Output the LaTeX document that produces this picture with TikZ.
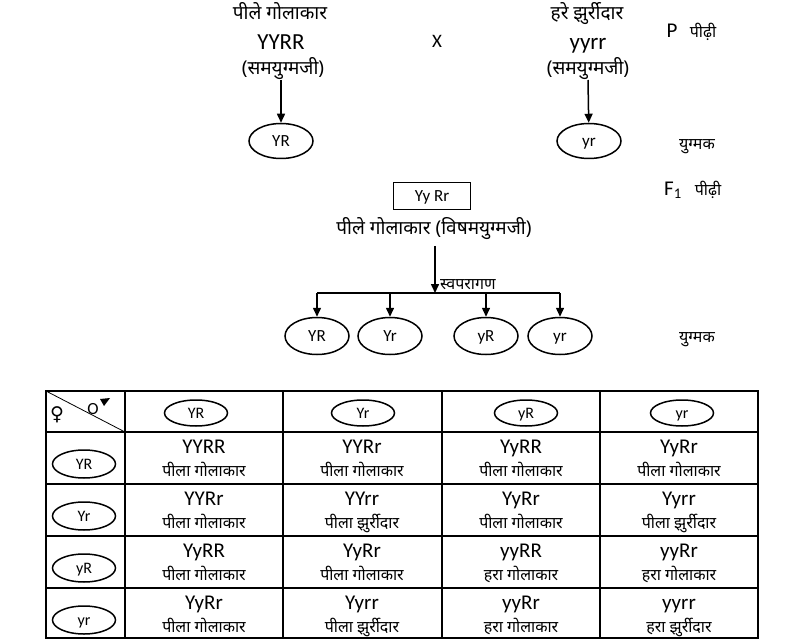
\documentclass[tikz,border=0pt]{standalone}
\usepackage{fontspec}
\setmainfont{Carlito}
\newfontfamily\dev[Script=Devanagari]{Noto Sans}
\newfontfamily\sym{DejaVu Sans}
\usetikzlibrary{shapes.geometric,arrows.meta}
\begin{document}
\begin{tikzpicture}[x=1pt,y=-1pt,
  gam/.style={draw, ellipse, line width=1.5pt, minimum width=64pt, minimum height=35pt, inner sep=0pt, text height=10.7pt, text depth=0pt, font=\fontsize{17}{20}\selectfont},
  tgam/.style={gam, minimum width=63pt, minimum height=26pt, text height=10.1pt, font=\fontsize{16}{19}\selectfont},
  geno/.style={font=\fontsize{23}{26}\selectfont, inner sep=0pt, text height=14.5pt, text depth=0pt},
  tgeno/.style={font=\fontsize{21}{24}\selectfont, inner sep=0pt, text height=13.2pt, text depth=0pt},
  heven/.style={text height=8pt, text depth=3pt, yshift=-4pt},
  hin/.style={font=\dev\fontsize{19}{22}\selectfont, inner sep=0pt, heven},
  thin/.style={font=\dev\fontsize{16}{19}\selectfont, inner sep=0pt, heven},
  arr/.style={line width=1.5pt, -{Triangle[length=9pt,width=8pt]}},
  bar/.style={line width=1.5pt},
  gridline/.style={line width=1.2pt},
  lab/.style={font=\fontsize{21}{24}\selectfont, inner sep=0pt, text height=13.2pt, text depth=0pt},
]
\useasboundingbox (0,0) rectangle (805,644);
% parents
\node[hin] (t1) at (280,13) {पीले गोलाकार};
\node[geno] (g1) at (281,42) {YYRR};
\node[hin] (h1) at (283,68) {(समयुग्मजी)};
\node[lab, font=\fontsize{19}{22}\selectfont, text height=12pt] (cross) at (437,42) {X};
\node[hin] (t2) at (587,13) {हरे झुर्रीदार};
\node[geno] (g2) at (588,42) {yyrr};
\node[hin] (h2) at (588,68) {(समयुग्मजी)};
\node[lab] (P) at (672,31) {P};
\node[thin] (Pp) at (703,31) {पीढ़ी};
% parent gametes
\node[gam] (e1) at (281,141) {YR};
\node[gam] (e2) at (589,141) {yr};
\coordinate (a1) at (281,80);
\coordinate (a2) at (588,80);
\draw[arr] (a1) -- (e1);
\draw[arr] (a2) -- (e2);
\node[thin] (y1) at (697,143) {युग्मक};
% F1
\node[lab] (F) at (673,189) {F\textsubscript{1}};
\node[thin] (Fp) at (708,189) {पीढ़ी};
\node[draw, line width=1.8pt, minimum width=77pt, minimum height=27pt, inner sep=0pt, text height=10.7pt, text depth=0pt, font=\fontsize{17}{20}\selectfont] (box) at (432,196) {Yy Rr};
\node[hin] (f1t) at (434,228) {पीले गोलाकार (विषमयुग्मजी)};
\coordinate (vtop) at (435,246);
\coordinate (hub) at (435,293);
\node[gam, minimum height=37pt] (k1) at (317,336) {YR};
\node[gam, minimum height=37pt] (k2) at (390,336) {Yr};
\node[gam, minimum height=37pt] (k3) at (486,336) {yR};
\node[gam, minimum height=37pt] (k4) at (560,336) {yr};
\draw[arr] (vtop) -- (hub);
\draw[bar] (k1.north |- hub) -- (k4.north |- hub);
\foreach \k in {k1,k2,k3,k4} \draw[arr] (\k.north |- hub) -- (\k);
\node[thin, anchor=west] (sv) at (440,283) {स्वपरागण};
\node[thin] (y2) at (697,336) {युग्मक};
% table grid
\draw[gridline] (46,391) rectangle (758,638);
\foreach \yy in {432,484,536,588} \draw[gridline] (46,\yy) -- (758,\yy);
\foreach \xx in {125,283,442,600} \draw[gridline] (\xx,391) -- (\xx,638);
\draw[line width=0.8pt] (46,391) -- (125,432);
\node[font=\sym\fontsize{19}{22}\selectfont, inner sep=0pt] (fem) at (57,415) {♀};
\node[font=\fontsize{17}{20}\selectfont, inner sep=0pt] (male) at (93,409) {O};
\fill (100,399) -- (110,398) -- (104,406) -- cycle;
% header gametes
\node[tgam] (c1) at (196,413) {YR};
\node[tgam] (c2) at (363,413) {Yr};
\node[tgam] (c3) at (526,413) {yR};
\node[tgam] (c4) at (682,413) {yr};
\node[tgam, minimum height=28pt] (r1) at (84,464) {YR};
\node[tgam, minimum height=28pt] (r2) at (84,516) {Yr};
\node[tgam, minimum height=28pt] (r3) at (84,568) {yR};
\node[tgam, minimum height=28pt] (r4) at (84,620) {yr};
% cells
\foreach \ry/\ri/\ga/\pa/\gb/\pb/\gc/\pc/\gd/\pd in {
 432/1/YYRR/पीला गोलाकार/YYRr/पीला गोलाकार/YyRR/पीला गोलाकार/YyRr/पीला गोलाकार,
 484/2/YYRr/पीला गोलाकार/YYrr/पीला झुर्रीदार/YyRr/पीला गोलाकार/Yyrr/पीला झुर्रीदार,
 536/3/YyRR/पीला गोलाकार/YyRr/पीला गोलाकार/yyRR/हरा गोलाकार/yyRr/हरा गोलाकार,
 588/4/YyRr/पीला गोलाकार/Yyrr/पीला झुर्रीदार/yyRr/हरा गोलाकार/yyrr/हरा झुर्रीदार}{
  \node[tgeno] (G\ri a) at (204,\ry+15) {\ga};
  \node[thin] (H\ri a) at (204,\ry+38) {\pa};
  \node[tgeno] (G\ri b) at (362,\ry+15) {\gb};
  \node[thin] (H\ri b) at (362,\ry+38) {\pb};
  \node[tgeno] (G\ri c) at (521,\ry+15) {\gc};
  \node[thin] (H\ri c) at (521,\ry+38) {\pc};
  \node[tgeno] (G\ri d) at (679,\ry+15) {\gd};
  \node[thin] (H\ri d) at (679,\ry+38) {\pd};
}
\end{tikzpicture}
\end{document}
